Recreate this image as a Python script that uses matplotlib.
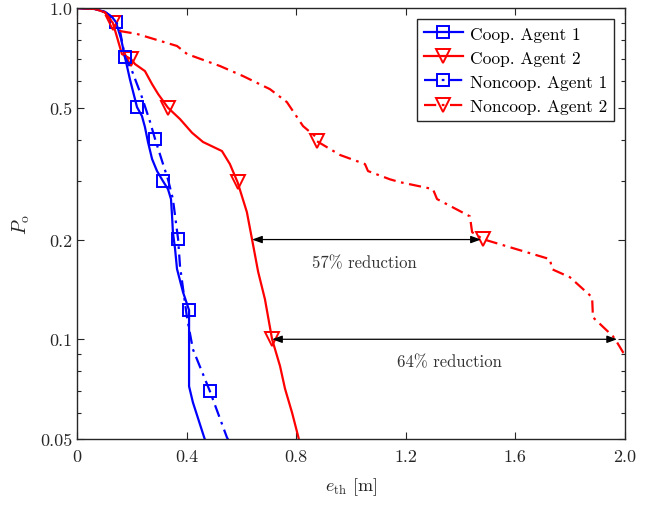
import numpy as np
import matplotlib
matplotlib.use("Agg")
import matplotlib.pyplot as plt
from matplotlib.ticker import FixedLocator, NullFormatter, LogLocator

plt.rcParams['font.family'] = 'serif'
plt.rcParams['font.serif'] = ['cmr10', 'DejaVu Serif']
plt.rcParams['mathtext.fontset'] = 'cm'
plt.rcParams['axes.formatter.use_mathtext'] = True

# ---- data ----
coop1_x = [0, 0.066, 0.102, 0.128, 0.142, 0.161, 0.175, 0.193, 0.219, 0.237, 0.248, 0.259, 0.274,
           0.292, 0.314, 0.332, 0.343, 0.347, 0.350, 0.358, 0.365, 0.387, 0.409, 0.409, 0.423, 0.464, 0.47]
coop1_p = [1.0, 0.993, 0.973, 0.939, 0.907, 0.806, 0.711, 0.610, 0.502, 0.472, 0.437, 0.394, 0.350,
           0.322, 0.300, 0.284, 0.265, 0.235, 0.2105, 0.187, 0.163, 0.1387, 0.1224, 0.0721, 0.0645, 0.0506, 0.049]
coop1_marks = [4, 8, 14, 22]

noncoop1_x = [0, 0.066, 0.102, 0.131, 0.142, 0.157, 0.175, 0.201, 0.237, 0.266, 0.285, 0.314, 0.332,
              0.350, 0.369, 0.376, 0.401, 0.423, 0.485, 0.547, 0.556]
noncoop1_p = [1.0, 0.993, 0.973, 0.935, 0.913, 0.852, 0.711, 0.645, 0.538, 0.455, 0.402, 0.338, 0.304,
              0.265, 0.2005, 0.166, 0.117, 0.0933, 0.0697, 0.0506, 0.049]
noncoop1_marks = [6, 10, 14, 18]

coop2_x = [0, 0.066, 0.102, 0.131, 0.146, 0.164, 0.197, 0.212, 0.248, 0.274, 0.296, 0.332, 0.376, 0.420,
           0.460, 0.529, 0.558, 0.586, 0.620, 0.639, 0.661, 0.686, 0.712, 0.741, 0.759, 0.785, 0.807, 0.812]
coop2_p = [1.0, 0.993, 0.970, 0.901, 0.817, 0.726, 0.701, 0.677, 0.645, 0.589, 0.550, 0.500, 0.462, 0.420,
           0.394, 0.370, 0.338, 0.298, 0.242, 0.200, 0.160, 0.132, 0.100, 0.083, 0.071, 0.060, 0.051, 0.049]
coop2_marks = [3, 6, 11, 17, 22]

noncoop2_x = [0, 0.066, 0.102, 0.131, 0.157, 0.219, 0.365, 0.402, 0.522, 0.606, 0.704, 0.766, 0.825,
              0.869, 0.876, 0.960, 1.051, 1.062, 1.142, 1.179, 1.299, 1.314, 1.434, 1.442, 1.482,
              1.726, 1.734, 1.799, 1.880, 1.883, 1.956, 1.971, 1.993, 2.03]
noncoop2_p = [1.0, 0.993, 0.970, 0.901, 0.852, 0.835, 0.768, 0.726, 0.668, 0.623, 0.569, 0.520, 0.440,
              0.410, 0.396, 0.360, 0.338, 0.322, 0.304, 0.298, 0.284, 0.265, 0.235, 0.2105, 0.2005,
              0.1745, 0.1627, 0.1539, 0.1339, 0.1165, 0.1021, 0.0979, 0.0913, 0.087]
noncoop2_marks = [14, 24]

arrow_levels = [0.2, 0.1]
arrow_left = [0.639, 0.712]
arrow_right = [1.474, 1.971]
arrow_texts = ['57% reduction', '64% reduction']
text_x = [1.05, 1.36]
text_p = [0.170, 0.0856]

xticks = [0, 0.4, 0.8, 1.2, 1.6, 2.0]
xticklabels = ['0', '0.4', '0.8', '1.2', '1.6', '2.0']
yticks = [0.05, 0.1, 0.2, 0.5, 1.0]
yticklabels = ['0.05', '0.1', '0.2', '0.5', '1.0']

# ---- figure ----
fig = plt.figure(figsize=(6.57, 5.06), dpi=100)
ax = fig.add_axes([77/657, 1-440/506, (625-77)/657, (440-9)/506])

BLUE = '#0000FF'
RED = '#FF0000'
dashdot = (0, (5.5, 2.5, 1.2, 2.5))
lw = 1.6

ax.plot(coop1_x, coop1_p, color=BLUE, ls='-', lw=lw, marker='s', ms=8.5, mfc='none', mew=1.4,
        markevery=coop1_marks, label='Coop. Agent 1')
ax.plot(coop2_x, coop2_p, color=RED, ls='-', lw=lw, marker='v', ms=10, mfc='none', mew=1.4,
        markevery=coop2_marks, label='Coop. Agent 2')
ax.plot(noncoop1_x, noncoop1_p, color=BLUE, ls=dashdot, lw=lw, marker='s', ms=8.5, mfc='none', mew=1.4,
        markevery=noncoop1_marks, label='Noncoop. Agent 1')
ax.plot(noncoop2_x, noncoop2_p, color=RED, ls=dashdot, lw=lw, marker='v', ms=10, mfc='none', mew=1.4,
        markevery=noncoop2_marks, label='Noncoop. Agent 2')

for lev, xl, xr in zip(arrow_levels, arrow_left, arrow_right):
    ax.annotate('', xy=(xl, lev), xytext=(xr, lev),
                arrowprops=dict(arrowstyle='<|-|>,head_length=0.6,head_width=0.22',
                                color='black', lw=0.9, shrinkA=0, shrinkB=0))
for t, tx, tp in zip(arrow_texts, text_x, text_p):
    ax.text(tx, tp, t, ha='center', va='center', fontsize=12, color='#333333')

ax.set_yscale('log')
ax.set_xlim(0, 2.0)
ax.set_ylim(0.05, 1.0)
ax.set_xticks(xticks)
ax.set_xticklabels(xticklabels)
ax.yaxis.set_major_locator(FixedLocator(yticks))
ax.set_yticklabels(yticklabels)
ax.yaxis.set_minor_locator(LogLocator(base=10, subs=np.arange(2, 10)))
ax.yaxis.set_minor_formatter(NullFormatter())

ax.tick_params(which='both', direction='in', top=True, right=True, colors='#262626',
               labelsize=13, labelcolor='#262626')
ax.tick_params(which='major', length=5, width=0.8)
ax.tick_params(which='minor', length=3, width=0.8)
ax.tick_params(axis='x', pad=7)
for s in ax.spines.values():
    s.set_color('#262626')
    s.set_linewidth(1.0)

ax.set_xlabel(r'$e_{\mathrm{th}}$ [m]', fontsize=13, color='#262626', labelpad=8)
ax.set_ylabel(r'$P_{\mathrm{o}}$', fontsize=14, color='#262626', labelpad=6)

leg = ax.legend(loc='upper right', fontsize=12.5, frameon=True, fancybox=False, edgecolor='#262626',
                framealpha=1, handlelength=2.3, borderaxespad=0.65, labelspacing=0.5,
                handletextpad=0.35, borderpad=0.4)
leg.get_frame().set_linewidth(1.0)

fig.savefig('out.png', dpi=100)
